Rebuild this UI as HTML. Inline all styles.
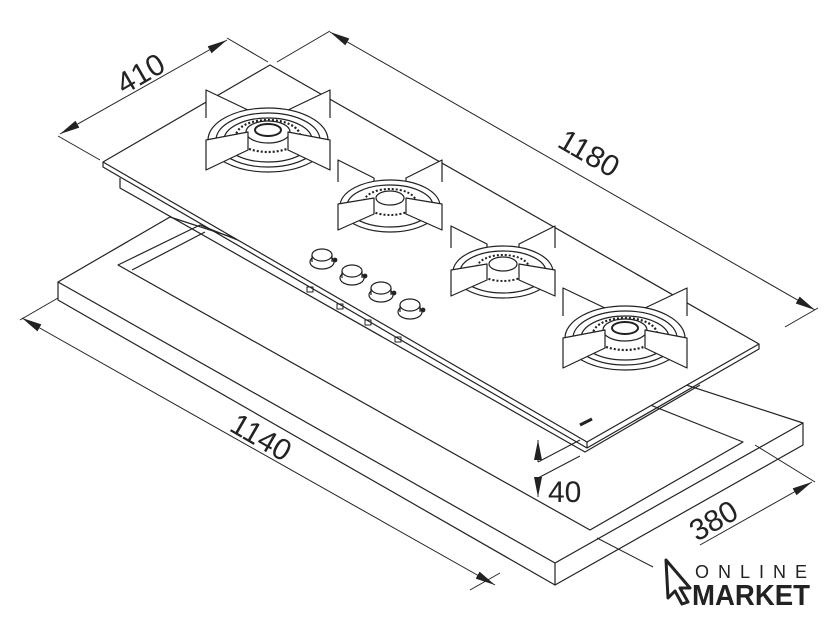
<!DOCTYPE html>
<html><head><meta charset="utf-8"><style>
body{margin:0;background:#fff;width:840px;height:619px;overflow:hidden}
svg{display:block}
text{font-family:"Liberation Sans",sans-serif;fill:#222}
</style></head><body>
<svg width="840" height="619" viewBox="0 0 840 619" fill="none" stroke="#222" stroke-width="1.2" stroke-linejoin="round">
<defs>
<marker id="a" viewBox="0 0 20 10" refX="20" refY="5" markerUnits="userSpaceOnUse" markerWidth="20" markerHeight="10" orient="auto-start-reverse"><path d="M0,1 L20,5 L0,9z" fill="#222" stroke="none"/></marker>
<g id="bb">
 <path d="M-62,-22 L-62,-50 L-20,-30 L-20,-10" fill="#fff"/>
 <path d="M62,-22 L62,-50 L20,-30 L20,-10" fill="#fff"/>
 <ellipse cx="0" cy="0" rx="60" ry="32" fill="#fff"/>
 <ellipse cx="0" cy="0" rx="52" ry="27"/>
 <ellipse cx="0" cy="0" rx="44" ry="22"/>
 <ellipse cx="0" cy="-4" rx="32" ry="16" stroke-width="2.2" stroke-dasharray="2 2"/>
 <ellipse cx="0" cy="-8" rx="22" ry="11"/>
 <ellipse cx="0" cy="-10" rx="13" ry="6" stroke-width="2"/>
 <path d="M-62,0 L-62,30 L-20,10 L-20,-8 Z" fill="#fff"/>
 <path d="M62,0 L62,30 L20,10 L20,-8 Z" fill="#fff"/>
</g>
<g id="sb">
 <path d="M-52,-20 L-52,-42 L-16,-24 L-16,-8" fill="#fff"/>
 <path d="M52,-20 L52,-42 L16,-24 L16,-8" fill="#fff"/>
 <ellipse cx="0" cy="4" rx="50" ry="26" fill="#fff"/>
 <ellipse cx="0" cy="4" rx="43" ry="21"/>
 <ellipse cx="0" cy="0" rx="26" ry="13" stroke-width="2" stroke-dasharray="2 2"/>
 <ellipse cx="0" cy="-4" rx="14" ry="7"/>
 <path d="M-52,2 L-52,28 L-16,12 L-16,-4 Z" fill="#fff"/>
 <path d="M52,2 L52,28 L16,12 L16,-4 Z" fill="#fff"/>
</g>
<g id="kn"><ellipse cx="0" cy="4" rx="12" ry="7"/><path d="M-10,-3 L-10,4 M10,-3 L10,4"/><ellipse cx="0" cy="-3" rx="10" ry="6" fill="#fff"/><circle cx="13" cy="2" r="1.8" fill="#222"/></g>
</defs>
<path d="M58,282 L170,217 L803,423 L555,563 Z" fill="#fff"/>
<path d="M58,282 L58,300 L555,585 L803,445 L803,423 M555,563 L555,585"/>
<path d="M118,265 L200,225 L743,442 L590,530 Z"/>
<path d="M132,270 L205,232"/>
<path d="M120,178 L120,188 L585,452 L700,385"/>
<path d="M103,162 L270,65 L759,344 L587,442 Z" fill="#fff"/>
<path d="M103,162 L103,167 L587,448 L759,349 L759,344 M587,442 L587,448"/>
<path d="M580,425 L592,419" stroke-width="3"/>
<use href="#bb" x="268" y="140"/>
<use href="#sb" x="390" y="202"/>
<use href="#sb" x="503" y="268"/>
<use href="#bb" x="625" y="338"/>
<use href="#kn" x="322" y="258"/><use href="#kn" x="352" y="274"/><use href="#kn" x="381" y="291"/><use href="#kn" x="410" y="308"/>
<g stroke-width="1"><rect x="307" y="287" width="6" height="5"/><rect x="337" y="304" width="6" height="5"/><rect x="365" y="320" width="6" height="5"/><rect x="395" y="337" width="6" height="5"/></g>
<g stroke-width="1">
<path d="M58,136 L100,160 M227,38 L268,62"/>
<path d="M60,134 L227,40" marker-start="url(#a)" marker-end="url(#a)"/>
<path d="M277,62 L330,31 M785,327 L818,308"/>
<path d="M330,32 L815,310" marker-start="url(#a)" marker-end="url(#a)"/>
<path d="M20,320 L58,298 M470,590 L500,573"/>
<path d="M22,318 L495,585" marker-start="url(#a)" marker-end="url(#a)"/>
<path d="M597,538 L653,567 M755,445 L815,482"/>
<path d="M700,545 L812,482" marker-end="url(#a)"/>
<path d="M538,462 L580,440 M538,478 L580,456"/>
<path d="M538,440 L538,462" marker-start="url(#a)"/>
<path d="M538,478 L538,497" marker-end="url(#a)"/>
</g>
<g stroke="none" font-size="30">
<text x="0" y="0" transform="translate(124,95) rotate(-30)">410</text>
<text x="0" y="0" transform="translate(556,146) rotate(30)">1180</text>
<text x="0" y="0" transform="translate(228,430) rotate(30)">1140</text>
<text x="0" y="0" transform="translate(697,542) rotate(-30)">380</text>
<text x="548" y="502">40</text>
</g>
<path d="M666,560 L690,588 L680,588 L688,602 L682,604 L675,591 L668,598 Z" stroke-width="3" fill="#fff"/>
<text x="695" y="578" font-size="18" letter-spacing="9" stroke="none">ONLINE</text>
<text x="692" y="605" font-size="29" font-weight="bold" stroke="none" textLength="118" lengthAdjust="spacingAndGlyphs">MARKET</text>
</svg>
</body></html>
